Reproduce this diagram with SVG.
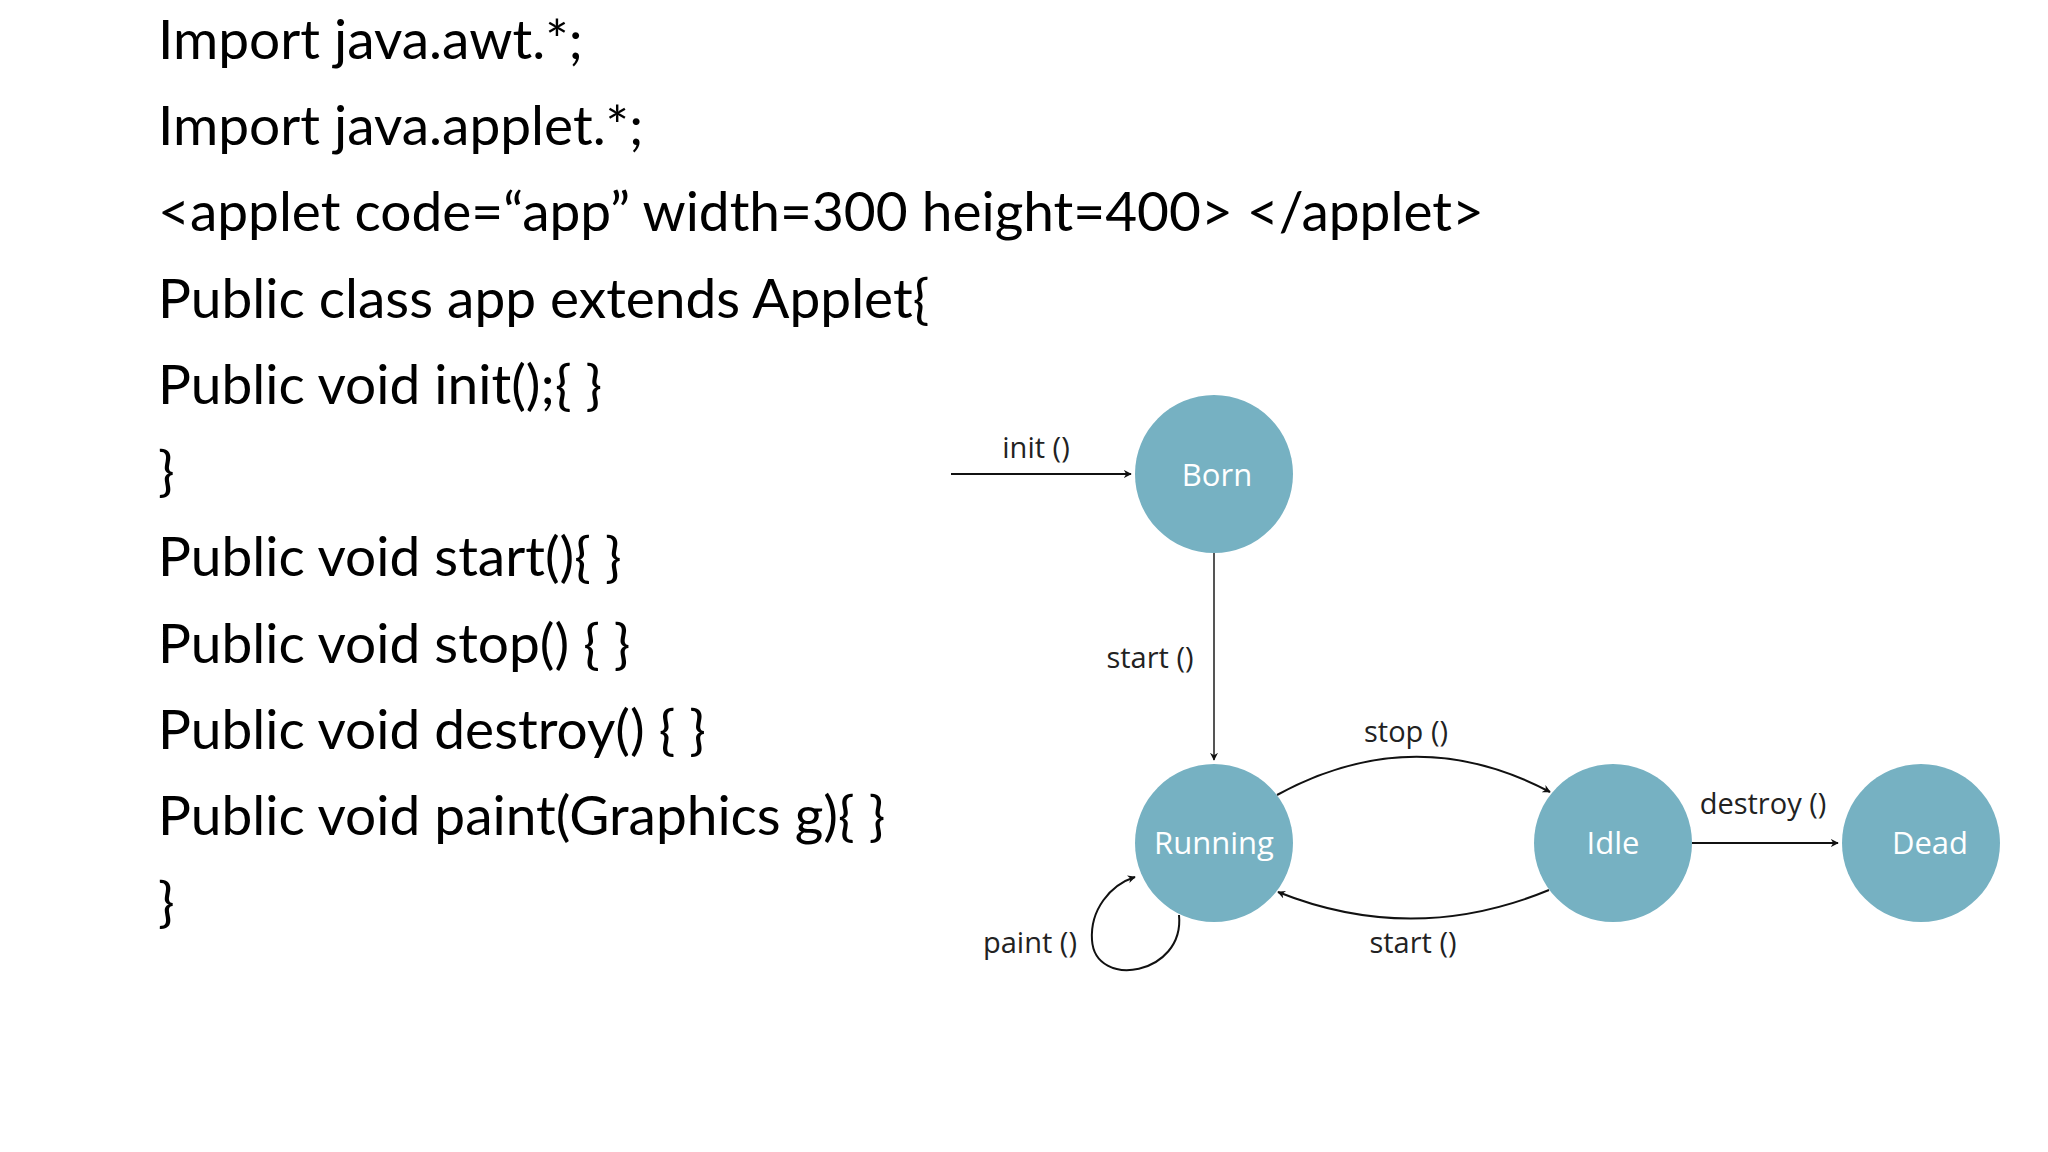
<svg xmlns="http://www.w3.org/2000/svg" width="2048" height="1152" viewBox="0 0 2048 1152">
<style>
.code{font-family:Lato,"Liberation Sans",sans-serif;font-size:55px;fill:#000}
.lbl{font-family:"Open Sans","Liberation Sans",sans-serif;font-size:29px;fill:#222;text-anchor:middle}
.nt{font-family:"Open Sans","Liberation Sans",sans-serif;font-size:31px;fill:#fff;text-anchor:middle}
.node{fill:#76b1c2}
.e{fill:none;stroke:#111;stroke-width:2;marker-end:url(#a)}
</style>
<defs><marker id="a" viewBox="0 0 10 10" refX="9" refY="5" markerWidth="8" markerHeight="8" orient="auto" markerUnits="userSpaceOnUse"><path d="M0,0 L10,5 L0,10 L3,5 z" fill="#111"/></marker></defs>
<rect width="2048" height="1152" fill="#fff"/>
<g id="code">
<text class="code" x="158" y="59">Import java.awt.*;</text>
<text class="code" x="158" y="145">Import java.applet.*;</text>
<text class="code" x="158" y="231">&lt;applet code=“app” width=300 height=400&gt; &lt;/applet&gt;</text>
<text class="code" x="158" y="318">Public class app extends Applet{</text>
<text class="code" x="158" y="404">Public void init();{ }</text>
<text class="code" x="158" y="490">}</text>
<text class="code" x="158" y="576">Public void start(){ }</text>
<text class="code" x="158" y="663">Public void stop() { }</text>
<text class="code" x="158" y="749">Public void destroy() { }</text>
<text class="code" x="158" y="835">Public void paint(Graphics g){ }</text>
<text class="code" x="158" y="921">}</text>
</g>
<g id="connectors">
<path class="e" d="M951,474 L1131,474"/>
<path class="e" d="M1214,553 L1214,760" style="stroke:#555"/>
<path class="e" d="M1277,795 Q1414,720 1550,792"/>
<path class="e" d="M1549,890 Q1413,946 1278,892"/>
<path class="e" d="M1692,843 L1838,843"/>
<path class="e" d="M1179,915 C1185,975 1095,990 1092,940 C1090,910 1110,885 1135,877"/>
<text class="lbl" x="1036" y="458">init ()</text>
<text class="lbl" x="1150" y="668">start ()</text>
<text class="lbl" x="1406" y="742">stop ()</text>
<text class="lbl" x="1763" y="814">destroy ()</text>
<text class="lbl" x="1413" y="953">start ()</text>
<text class="lbl" x="1030" y="953">paint ()</text>
</g>
<g id="born"><circle class="node" cx="1214" cy="474" r="79"/><text class="nt" x="1217" y="486">Born</text></g>
<g id="running"><circle class="node" cx="1214" cy="843" r="79"/><text class="nt" x="1214" y="854">Running</text></g>
<g id="idle"><circle class="node" cx="1613" cy="843" r="79"/><text class="nt" x="1613" y="854">Idle</text></g>
<g id="dead"><circle class="node" cx="1921" cy="843" r="79"/><text class="nt" x="1930" y="854">Dead</text></g>
</svg>
